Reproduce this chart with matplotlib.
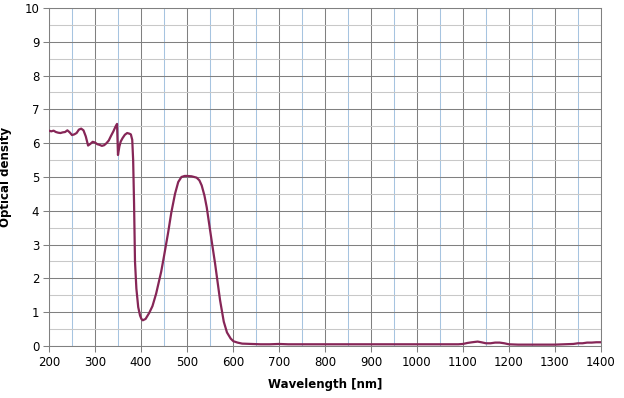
import matplotlib
matplotlib.use("Agg")
import matplotlib.pyplot as plt
from matplotlib.ticker import MultipleLocator

wavelength = [200, 205, 210, 215, 220, 225, 230, 235, 240, 245, 250, 255, 260, 265, 270, 275, 280,
              285, 290, 295, 300, 305, 310, 315, 320, 325, 330, 335, 340, 345, 348, 350, 353, 356,
              360, 365, 370, 375, 378, 381, 383, 385, 387, 390, 394, 398, 401, 404, 410, 418,
              425, 433, 444, 450, 459, 466, 474, 481, 488, 495, 500, 510, 521, 527, 532, 538, 543,
              550, 556, 561, 567, 572, 580, 587, 595, 601, 610, 620, 640, 660, 680, 700, 720, 750, 800,
              850, 900, 950, 1000, 1050, 1090, 1100, 1110, 1120, 1132, 1140, 1150, 1160, 1170, 1180,
              1190, 1200, 1220, 1250, 1280, 1300, 1320, 1340, 1350, 1360, 1370, 1380, 1390, 1400]
optical_density = [6.37, 6.35, 6.37, 6.33, 6.31, 6.30, 6.32, 6.33, 6.38, 6.32, 6.24, 6.26, 6.30,
                   6.40, 6.43, 6.38, 6.20, 5.93, 5.98, 6.04, 6.02, 5.97, 5.95, 5.92, 5.94, 6.00,
                   6.08, 6.22, 6.35, 6.50, 6.57, 5.65, 5.90, 6.05, 6.15, 6.25, 6.30, 6.28, 6.26,
                   6.10, 5.50, 4.20, 2.50, 1.70, 1.15, 0.90, 0.80, 0.76, 0.80, 0.98,
                   1.18, 1.55, 2.20, 2.65, 3.35, 3.95, 4.50, 4.85, 5.00, 5.03, 5.03, 5.02, 4.98,
                   4.90, 4.75, 4.45, 4.10, 3.45, 2.90, 2.45, 1.85, 1.35, 0.72, 0.40, 0.22, 0.14,
                   0.10, 0.07, 0.06, 0.05, 0.05, 0.06, 0.05, 0.05, 0.05, 0.05, 0.05, 0.05, 0.05,
                   0.05, 0.05, 0.06, 0.09, 0.11, 0.13, 0.11, 0.08, 0.08, 0.10, 0.10, 0.08, 0.05,
                   0.04, 0.04, 0.04, 0.04, 0.05, 0.06, 0.08, 0.08, 0.10, 0.10, 0.11, 0.11]

fig = plt.figure(figsize=(6.24, 3.98), dpi=100)
ax = fig.add_axes([0.0785, 0.1307, 0.8845, 0.8493])

ax.plot(wavelength, optical_density, color="#862657", lw=1.6, zorder=3)

ax.set_xlim(200, 1400)
ax.set_ylim(0, 10)
ax.xaxis.set_major_locator(MultipleLocator(100))
ax.xaxis.set_minor_locator(MultipleLocator(50))
ax.yaxis.set_major_locator(MultipleLocator(1))
ax.yaxis.set_minor_locator(MultipleLocator(0.5))

ax.grid(which="major", axis="both", color="#808080", lw=0.75)
ax.grid(which="minor", axis="x", color="#a6c4e0", lw=0.75)
ax.grid(which="minor", axis="y", color="#c8c8c8", lw=0.75)
ax.set_axisbelow(True)

for s in ax.spines.values():
    s.set_color("#808080")
    s.set_linewidth(0.75)

ax.tick_params(which="major", direction="out", length=4, width=0.75, color="#808080",
               labelsize=8.5, labelcolor="black", pad=3)
ax.tick_params(which="minor", length=0)
ax.set_xlabel("Wavelength [nm]", fontsize=8.5, fontweight="bold", labelpad=7)
ax.set_ylabel("Optical density", fontsize=8.5, fontweight="bold", labelpad=9)

fig.savefig("out.png", dpi=100)
